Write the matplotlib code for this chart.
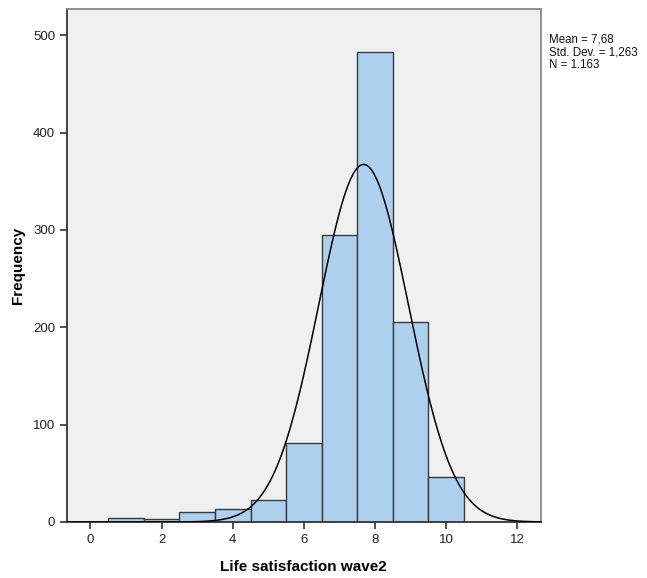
import numpy as np
import matplotlib.pyplot as plt

plt.rcParams['font.family'] = ['Liberation Sans', 'DejaVu Sans']

scores = [1, 2, 3, 4, 5, 6, 7, 8, 9, 10]
counts = [4, 3, 10, 13, 23, 81, 295, 483, 205, 46]
mean = 7.68
sd = 1.263
n = 1163
xticks = [0, 2, 4, 6, 8, 10, 12]
yticks = [0, 100, 200, 300, 400, 500]

fig = plt.figure(figsize=(6.47, 5.78), dpi=100)
ax = fig.add_axes([0.1036, 0.0969, 0.7321, 0.8875])
ax.set_facecolor('#F0F0F0')

ax.bar(scores, counts, width=1.0, color='#ADD0EE', edgecolor='#3A3A3A', linewidth=1.0, zorder=2)

xs = np.linspace(-0.66, 12.66, 400)
curve = n * 1.0 / (sd * np.sqrt(2 * np.pi)) * np.exp(-0.5 * ((xs - mean) / sd) ** 2)
ax.plot(xs, curve, color='black', linewidth=1.1, zorder=3)

ax.set_xlim(-0.66, 12.66)
ax.set_ylim(0, 527)
ax.set_xticks(xticks)
ax.set_yticks(yticks)
ax.tick_params(direction='out', length=5, width=1.2, color='#333333', labelsize=9.5, labelcolor='#222222')

for s in ['left', 'bottom']:
    ax.spines[s].set_color('#333333')
    ax.spines[s].set_linewidth(1.3)
for s in ['top', 'right']:
    ax.spines[s].set_color('#888888')
    ax.spines[s].set_linewidth(1.3)

ax.set_xlabel('Life satisfaction wave2', fontsize=11, fontweight='bold', labelpad=10)
ax.set_ylabel('Frequency', fontsize=11, fontweight='bold', labelpad=6)

fig.text(549 / 647, 1 - 34 / 578, 'Mean = 7,68\nStd. Dev. = 1,263\nN = 1.163',
         fontsize=8.3, va='top', ha='left', linespacing=1.05, color='#111111')

fig.savefig('out.png', dpi=100)
